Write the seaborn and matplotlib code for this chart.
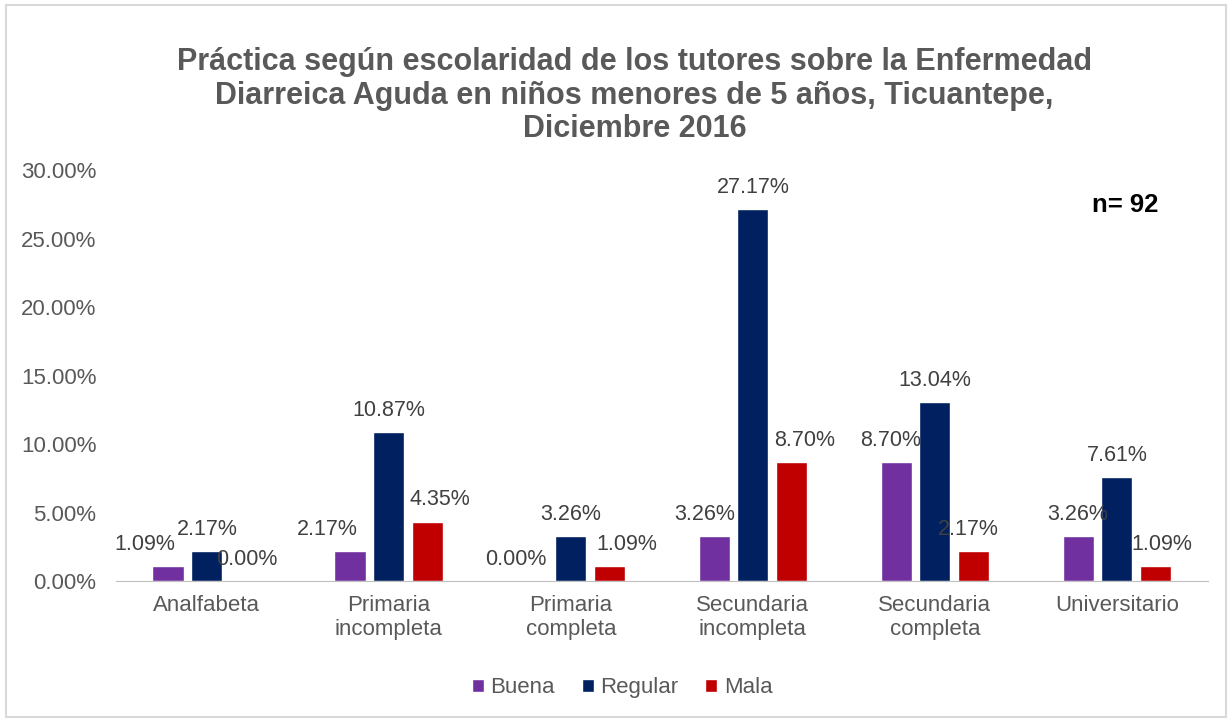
"""Grouped bar chart: práctica según escolaridad de los tutores."""

import pandas as pd
import matplotlib.pyplot as plt
import seaborn as sns
from matplotlib.patches import Rectangle
from matplotlib.ticker import FuncFormatter, FixedLocator

# Data (percent)
categories = ['Analfabeta', 'Primaria\nincompleta', 'Primaria\ncompleta',
              'Secundaria\nincompleta', 'Secundaria\ncompleta', 'Universitario']
series = ['Buena', 'Regular', 'Mala']
buena = [1.09, 2.17, 0.00, 3.26, 8.70, 3.26]
regular = [2.17, 10.87, 3.26, 27.17, 13.04, 7.61]
mala = [0.00, 4.35, 1.09, 8.70, 2.17, 1.09]
colors = ['#7030A0', '#002060', '#C00000']

# horizontal nudges of the data labels (points), as placed in the original chart
label_dx = [
    [-17, -16, -12, -7, -4, 0],
    [0, 0, 0, 0, 0, 0],
    [1, 9, 12, 9, -4, 4],
]

df = pd.DataFrame({
    'categoria': categories * 3,
    'practica': [s for s in series for _ in categories],
    'valor': buena + regular + mala,
})

sns.set_style('white')
plt.rcParams['font.family'] = ['Liberation Sans', 'DejaVu Sans']

fig = plt.figure(figsize=(12.32, 7.21), dpi=100)
ax = fig.add_axes([0.094, 0.194, 0.8865, 0.570])

sns.barplot(data=df, x='categoria', y='valor', hue='practica',
            palette=colors, saturation=1, width=0.64, gap=0.2, ax=ax,
            legend=True)

# Data labels
for cont, dxs in zip(ax.containers, label_dx):
    for bar, dx in zip(cont, dxs):
        h = bar.get_height()
        ax.annotate(f'{h:.2f}%', (bar.get_x() + bar.get_width() / 2, h),
                    xytext=(dx, 8), textcoords='offset points',
                    ha='center', va='bottom', fontsize=15.5, color='#404040')

ax.set_ylim(0, 30)
ax.set_xlim(-0.5, 5.5)
ax.yaxis.set_major_locator(FixedLocator([0, 5, 10, 15, 20, 25, 30]))
ax.yaxis.set_major_formatter(FuncFormatter(lambda v, p: f'{v:.2f}%'))
ax.tick_params(axis='y', labelsize=16, labelcolor='#595959', length=0, pad=14)
ax.tick_params(axis='x', labelsize=16, labelcolor='#595959', length=0, pad=10)
ax.set_xlabel('')
ax.set_ylabel('')

# Small ticks between categories on the x axis
ax.set_xticks([i + 0.5 for i in range(-1, 6)], minor=True)
ax.tick_params(axis='x', which='minor', length=6, color='#BFBFBF')

for side in ['left', 'right', 'top']:
    ax.spines[side].set_visible(False)
ax.spines['bottom'].set_color('#BFBFBF')

# Legend at bottom
handles, labels = ax.get_legend_handles_labels()
ax.legend_.remove()
fig.legend(handles, labels, loc='center', bbox_to_anchor=(0.505, 0.046),
           ncol=3, frameon=False, fontsize=16, handlelength=0.55,
           handleheight=0.55, handletextpad=0.3, columnspacing=1.2,
           labelcolor='#595959')

fig.text(0.515, 0.867,
         'Práctica según escolaridad de los tutores sobre la Enfermedad\n'
         'Diarreica Aguda en niños menores de 5 años, Ticuantepe,\n'
         'Diciembre 2016',
         ha='center', va='center', fontsize=22, fontweight='bold',
         color='#595959', linespacing=1.15)

fig.text(0.913, 0.716, 'n= 92', ha='center', va='center', fontsize=18.5,
         fontweight='bold', color='black')

# Chart border
fig.patches.append(Rectangle((0.005, 0.006), 0.99, 0.987, transform=fig.transFigure,
                             fill=False, edgecolor='#D9D9D9', linewidth=1.5))

plt.savefig('out.png', dpi=100)
plt.close()
